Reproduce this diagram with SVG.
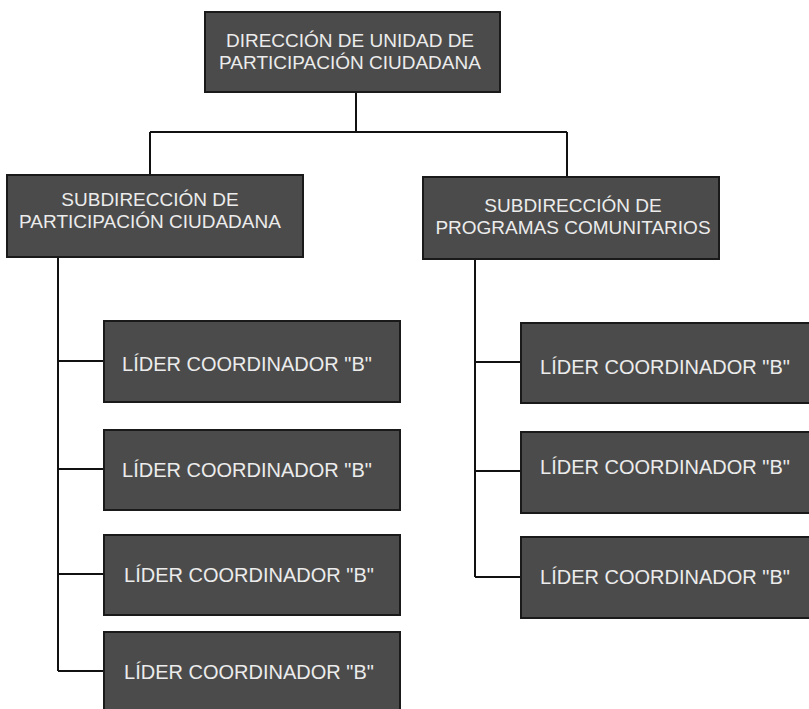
<svg xmlns="http://www.w3.org/2000/svg" width="809" height="709" viewBox="0 0 809 709">
<style>
.box{fill:#4b4b4b;stroke:#1a1a1a;stroke-width:2}
.t{font-family:"Liberation Sans",Arial,sans-serif;font-size:20px;fill:#ececec;text-anchor:middle}
.t2{font-family:"Liberation Sans",Arial,sans-serif;font-size:19px;fill:#ececec;text-anchor:middle}
.c{fill:none;stroke:#111;stroke-width:2}
</style>
<rect width="809" height="709" fill="#ffffff"/>
<g id="connectors">
<path class="c" d="M356 92 V132 M150 132 H567 M150 132 V175 M567 132 V177"/>
<path class="c" d="M58 257 V671 M58 361 H104 M58 469 H104 M58 574 H104 M58 671 H104"/>
<path class="c" d="M475 259 V577 M475 362 H521 M475 471 H521 M475 577 H521"/>
</g>
<g id="n-direccion">
<rect class="box" x="205" y="12" width="295" height="80"/>
<text class="t2" x="350" y="47">DIRECCIÓN DE UNIDAD DE</text>
<text class="t2" x="350" y="69">PARTICIPACIÓN CIUDADANA</text>
</g>
<g id="n-sub-participacion">
<rect class="box" x="7" y="175" width="296" height="82"/>
<text class="t2" x="150" y="206">SUBDIRECCIÓN DE</text>
<text class="t2" x="150" y="228">PARTICIPACIÓN CIUDADANA</text>
</g>
<g id="n-sub-programas">
<rect class="box" x="423" y="177" width="296" height="82"/>
<text class="t2" x="573" y="212">SUBDIRECCIÓN DE</text>
<text class="t2" x="573" y="234">PROGRAMAS COMUNITARIOS</text>
</g>
<g id="n-l1">
<rect class="box" x="104" y="321" width="296" height="81"/>
<text class="t" x="247" y="371">LÍDER COORDINADOR "B"</text>
</g>
<g id="n-l2">
<rect class="box" x="104" y="430" width="296" height="80"/>
<text class="t" x="247" y="477">LÍDER COORDINADOR "B"</text>
</g>
<g id="n-l3">
<rect class="box" x="104" y="535" width="296" height="80"/>
<text class="t" x="249" y="582">LÍDER COORDINADOR "B"</text>
</g>
<g id="n-l4">
<rect class="box" x="104" y="632" width="296" height="80"/>
<text class="t" x="249" y="679">LÍDER COORDINADOR "B"</text>
</g>
<g id="n-r1">
<rect class="box" x="521" y="323" width="292" height="80"/>
<text class="t" x="665" y="374">LÍDER COORDINADOR "B"</text>
</g>
<g id="n-r2">
<rect class="box" x="521" y="432" width="292" height="81"/>
<text class="t" x="665" y="474">LÍDER COORDINADOR "B"</text>
</g>
<g id="n-r3">
<rect class="box" x="521" y="537" width="292" height="81"/>
<text class="t" x="665" y="584">LÍDER COORDINADOR "B"</text>
</g>
</svg>
